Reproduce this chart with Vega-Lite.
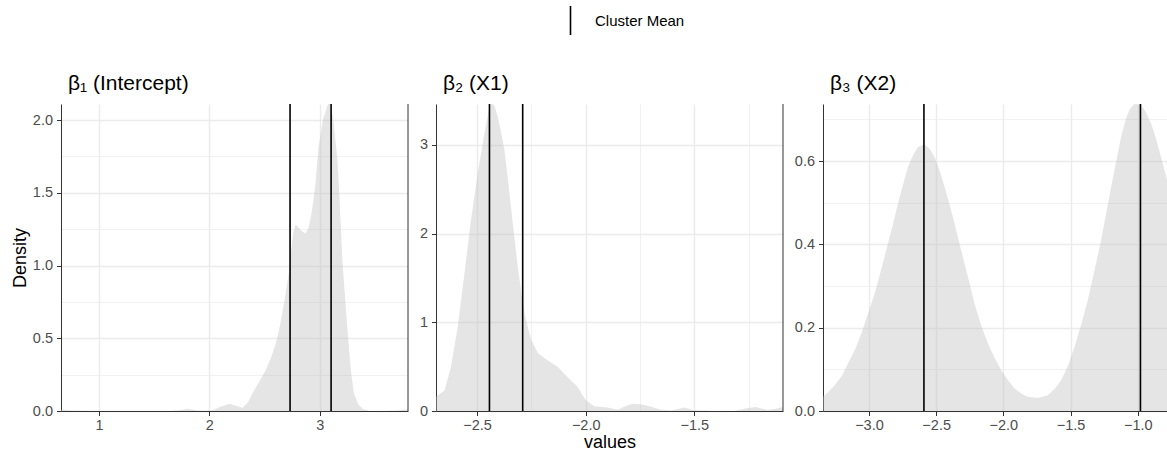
{
  "$schema": "https://vega.github.io/schema/vega-lite/v6.json",
  "background": "white",
  "padding": {"left": 11, "top": 5, "right": 0, "bottom": 0},
  "spacing": 10,
  "config": {
    "font": "Liberation Sans",
    "view": {"stroke": null},
    "axis": {
      "domainColor": "#333333",
      "domainWidth": 1,
      "tickColor": "#333333",
      "tickSize": 4.5,
      "tickWidth": 1,
      "labelColor": "#4D4D4D",
      "labelFontSize": 14.5,
      "labelPadding": 3,
      "labelOverlap": false,
      "labelFlush": false,
      "titleFontSize": 18,
      "titleFontWeight": "normal",
      "titleColor": "black",
      "gridColor": "#EBEBEB"
    },
    "axisY": {"labelPadding": 4},
    "title": {"fontSize": 21, "fontWeight": "normal", "color": "black", "anchor": "start", "frame": "group", "offset": 9, "dx": 7}
  },
  "datasets": {
    "density": [
      {"param": "b1", "value": 0.655, "density": 0.01},
      {"param": "b1", "value": 0.75, "density": 0.004},
      {"param": "b1", "value": 0.9, "density": 0.0},
      {"param": "b1", "value": 1.2, "density": 0.0},
      {"param": "b1", "value": 1.5, "density": 0.0},
      {"param": "b1", "value": 1.65, "density": 0.0},
      {"param": "b1", "value": 1.73, "density": 0.005},
      {"param": "b1", "value": 1.8, "density": 0.016},
      {"param": "b1", "value": 1.88, "density": 0.006},
      {"param": "b1", "value": 1.95, "density": 0.0},
      {"param": "b1", "value": 2.03, "density": 0.005},
      {"param": "b1", "value": 2.1, "density": 0.03},
      {"param": "b1", "value": 2.18, "density": 0.05},
      {"param": "b1", "value": 2.25, "density": 0.035},
      {"param": "b1", "value": 2.3, "density": 0.023},
      {"param": "b1", "value": 2.35, "density": 0.06},
      {"param": "b1", "value": 2.39, "density": 0.12},
      {"param": "b1", "value": 2.45, "density": 0.2},
      {"param": "b1", "value": 2.51, "density": 0.28},
      {"param": "b1", "value": 2.56, "density": 0.37},
      {"param": "b1", "value": 2.6, "density": 0.46},
      {"param": "b1", "value": 2.63, "density": 0.55},
      {"param": "b1", "value": 2.66, "density": 0.67},
      {"param": "b1", "value": 2.69, "density": 0.8},
      {"param": "b1", "value": 2.72, "density": 0.95},
      {"param": "b1", "value": 2.74, "density": 1.1},
      {"param": "b1", "value": 2.76, "density": 1.22},
      {"param": "b1", "value": 2.78, "density": 1.28},
      {"param": "b1", "value": 2.8, "density": 1.27},
      {"param": "b1", "value": 2.83, "density": 1.24},
      {"param": "b1", "value": 2.87, "density": 1.22},
      {"param": "b1", "value": 2.9, "density": 1.26},
      {"param": "b1", "value": 2.93, "density": 1.38},
      {"param": "b1", "value": 2.96, "density": 1.55},
      {"param": "b1", "value": 2.99, "density": 1.82},
      {"param": "b1", "value": 3.03, "density": 2.0},
      {"param": "b1", "value": 3.07, "density": 2.1},
      {"param": "b1", "value": 3.09, "density": 2.13},
      {"param": "b1", "value": 3.12, "density": 2.02},
      {"param": "b1", "value": 3.16, "density": 1.73},
      {"param": "b1", "value": 3.18, "density": 1.45},
      {"param": "b1", "value": 3.205, "density": 1.04},
      {"param": "b1", "value": 3.235, "density": 0.72},
      {"param": "b1", "value": 3.26, "density": 0.47},
      {"param": "b1", "value": 3.285, "density": 0.26},
      {"param": "b1", "value": 3.31, "density": 0.12},
      {"param": "b1", "value": 3.35, "density": 0.045},
      {"param": "b1", "value": 3.39, "density": 0.014},
      {"param": "b1", "value": 3.45, "density": 0.0},
      {"param": "b1", "value": 3.6, "density": 0.0},
      {"param": "b1", "value": 3.7, "density": 0.004},
      {"param": "b1", "value": 3.76, "density": 0.01},
      {"param": "b1", "value": 3.8, "density": 0.008},
      {"param": "b2", "value": -2.689, "density": 0.16},
      {"param": "b2", "value": -2.65, "density": 0.23},
      {"param": "b2", "value": -2.62, "density": 0.5},
      {"param": "b2", "value": -2.589, "density": 0.95},
      {"param": "b2", "value": -2.558, "density": 1.55},
      {"param": "b2", "value": -2.528, "density": 2.15},
      {"param": "b2", "value": -2.497, "density": 2.68},
      {"param": "b2", "value": -2.466, "density": 3.13},
      {"param": "b2", "value": -2.443, "density": 3.43},
      {"param": "b2", "value": -2.433, "density": 3.47},
      {"param": "b2", "value": -2.42, "density": 3.44},
      {"param": "b2", "value": -2.405, "density": 3.32},
      {"param": "b2", "value": -2.39, "density": 3.15},
      {"param": "b2", "value": -2.374, "density": 2.94},
      {"param": "b2", "value": -2.36, "density": 2.65},
      {"param": "b2", "value": -2.344, "density": 2.3},
      {"param": "b2", "value": -2.328, "density": 1.95},
      {"param": "b2", "value": -2.313, "density": 1.63},
      {"param": "b2", "value": -2.297, "density": 1.35},
      {"param": "b2", "value": -2.282, "density": 1.1},
      {"param": "b2", "value": -2.265, "density": 0.93},
      {"param": "b2", "value": -2.25, "density": 0.8},
      {"param": "b2", "value": -2.22, "density": 0.65},
      {"param": "b2", "value": -2.175, "density": 0.57},
      {"param": "b2", "value": -2.129, "density": 0.5},
      {"param": "b2", "value": -2.083, "density": 0.38},
      {"param": "b2", "value": -2.037, "density": 0.27},
      {"param": "b2", "value": -2.0, "density": 0.12},
      {"param": "b2", "value": -1.96, "density": 0.053},
      {"param": "b2", "value": -1.899, "density": 0.04},
      {"param": "b2", "value": -1.853, "density": 0.015},
      {"param": "b2", "value": -1.82, "density": 0.05},
      {"param": "b2", "value": -1.784, "density": 0.083},
      {"param": "b2", "value": -1.75, "density": 0.075},
      {"param": "b2", "value": -1.715, "density": 0.06},
      {"param": "b2", "value": -1.653, "density": 0.015},
      {"param": "b2", "value": -1.607, "density": 0.005},
      {"param": "b2", "value": -1.546, "density": 0.04},
      {"param": "b2", "value": -1.5, "density": 0.008},
      {"param": "b2", "value": -1.4, "density": 0.0},
      {"param": "b2", "value": -1.316, "density": 0.0},
      {"param": "b2", "value": -1.26, "density": 0.03},
      {"param": "b2", "value": -1.216, "density": 0.045},
      {"param": "b2", "value": -1.163, "density": 0.01},
      {"param": "b2", "value": -1.125, "density": 0.025},
      {"param": "b2", "value": -1.092, "density": 0.045},
      {"param": "b3", "value": -3.342, "density": 0.034},
      {"param": "b3", "value": -3.3, "density": 0.046},
      {"param": "b3", "value": -3.255, "density": 0.062},
      {"param": "b3", "value": -3.2, "density": 0.085},
      {"param": "b3", "value": -3.156, "density": 0.114},
      {"param": "b3", "value": -3.1, "density": 0.15},
      {"param": "b3", "value": -3.057, "density": 0.186},
      {"param": "b3", "value": -3.0, "density": 0.24},
      {"param": "b3", "value": -2.958, "density": 0.282},
      {"param": "b3", "value": -2.9, "density": 0.35},
      {"param": "b3", "value": -2.859, "density": 0.402},
      {"param": "b3", "value": -2.82, "density": 0.45},
      {"param": "b3", "value": -2.784, "density": 0.498},
      {"param": "b3", "value": -2.745, "density": 0.545},
      {"param": "b3", "value": -2.71, "density": 0.586},
      {"param": "b3", "value": -2.67, "density": 0.615},
      {"param": "b3", "value": -2.636, "density": 0.634},
      {"param": "b3", "value": -2.586, "density": 0.64},
      {"param": "b3", "value": -2.55, "density": 0.63},
      {"param": "b3", "value": -2.512, "density": 0.61},
      {"param": "b3", "value": -2.475, "density": 0.578},
      {"param": "b3", "value": -2.437, "density": 0.538},
      {"param": "b3", "value": -2.4, "density": 0.495},
      {"param": "b3", "value": -2.363, "density": 0.45},
      {"param": "b3", "value": -2.325, "density": 0.4},
      {"param": "b3", "value": -2.289, "density": 0.354},
      {"param": "b3", "value": -2.25, "density": 0.305},
      {"param": "b3", "value": -2.215, "density": 0.258},
      {"param": "b3", "value": -2.165, "density": 0.205},
      {"param": "b3", "value": -2.115, "density": 0.162},
      {"param": "b3", "value": -2.065, "density": 0.127},
      {"param": "b3", "value": -2.016, "density": 0.098},
      {"param": "b3", "value": -1.965, "density": 0.074},
      {"param": "b3", "value": -1.917, "density": 0.054},
      {"param": "b3", "value": -1.867, "density": 0.042},
      {"param": "b3", "value": -1.817, "density": 0.034},
      {"param": "b3", "value": -1.744, "density": 0.031},
      {"param": "b3", "value": -1.669, "density": 0.038},
      {"param": "b3", "value": -1.62, "density": 0.052},
      {"param": "b3", "value": -1.57, "density": 0.074},
      {"param": "b3", "value": -1.52, "density": 0.108},
      {"param": "b3", "value": -1.47, "density": 0.154},
      {"param": "b3", "value": -1.42, "density": 0.208},
      {"param": "b3", "value": -1.372, "density": 0.266},
      {"param": "b3", "value": -1.32, "density": 0.34},
      {"param": "b3", "value": -1.273, "density": 0.41},
      {"param": "b3", "value": -1.235, "density": 0.475},
      {"param": "b3", "value": -1.198, "density": 0.538},
      {"param": "b3", "value": -1.16, "density": 0.6},
      {"param": "b3", "value": -1.124, "density": 0.658},
      {"param": "b3", "value": -1.09, "density": 0.7},
      {"param": "b3", "value": -1.062, "density": 0.723},
      {"param": "b3", "value": -1.025, "density": 0.737},
      {"param": "b3", "value": -0.975, "density": 0.735},
      {"param": "b3", "value": -0.94, "density": 0.718},
      {"param": "b3", "value": -0.901, "density": 0.69},
      {"param": "b3", "value": -0.865, "density": 0.655},
      {"param": "b3", "value": -0.827, "density": 0.61},
      {"param": "b3", "value": -0.775, "density": 0.546}
    ],
    "means": [
      {"param": "b1", "mean": 2.731},
      {"param": "b1", "mean": 3.103},
      {"param": "b2", "mean": -2.443},
      {"param": "b2", "mean": -2.29},
      {"param": "b3", "mean": -2.591},
      {"param": "b3", "mean": -0.98}
    ],
    "edges": [
      {"param": "b1", "edge": 3.8},
      {"param": "b2", "edge": -1.092},
      {"param": "b3", "edge": -0.775}
    ]
  },
  "hconcat": [
    {
      "width": 347,
      "height": 307,
      "title": {"text": "β₁ (Intercept)"},
      "layer": [
        {
          "data": {"name": "density"},
          "transform": [{"filter": "datum.param == 'b1'"}],
          "mark": {"type": "area", "fill": "#BEBEBE", "fillOpacity": 0.4, "clip": true},
          "encoding": {
            "x": {"field": "value", "type": "quantitative", "title": null,
              "scale": {"domain": [0.655, 3.8], "nice": false, "zero": false},
              "axis": {"values": [1, 1.5, 2, 2.5, 3, 3.5], "format": "d",
                "labelExpr": "datum.value % 1 != 0 ? '' : datum.label",
                "tickOpacity": {"condition": {"test": "datum.value % 1 != 0", "value": 0}, "value": 1},
                "gridWidth": {"condition": {"test": "datum.value % 1 != 0", "value": 0.7}, "value": 1.4}}},
            "y": {"field": "density", "type": "quantitative", "title": "Density",
              "scale": {"domain": [0, 2.11], "nice": false},
              "axis": {"values": [0, 0.25, 0.5, 0.75, 1, 1.25, 1.5, 1.75, 2], "format": ".1f", "titlePadding": 3,
                "labelExpr": "(datum.value * 2) % 1 != 0 ? '' : datum.label",
                "tickOpacity": {"condition": {"test": "(datum.value * 2) % 1 != 0", "value": 0}, "value": 1},
                "gridWidth": {"condition": {"test": "(datum.value * 2) % 1 != 0", "value": 0.7}, "value": 1.4}}}
          }
        },
        {
          "data": {"name": "means"},
          "transform": [{"filter": "datum.param == 'b1'"}],
          "mark": {"type": "rule", "strokeWidth": 1.6},
          "encoding": {
            "x": {"field": "mean", "type": "quantitative"},
            "stroke": {"datum": "Cluster Mean", "scale": {"range": ["black"]},
              "legend": {"title": null, "orient": "none", "legendX": 494, "legendY": -99,
                "symbolType": "M0,-1L0,1", "symbolSize": 841, "symbolStrokeWidth": 1.6,
                "labelFontSize": 15, "labelColor": "black", "labelOffset": 9}}
          }
        },
        {
          "data": {"name": "edges"},
          "transform": [{"filter": "datum.param == 'b1'"}],
          "mark": {"type": "rule", "color": "#333333", "strokeWidth": 1},
          "encoding": {"x": {"field": "edge", "type": "quantitative"}}
        }
      ]
    },
    {
      "width": 347,
      "height": 307,
      "title": {"text": "β₂ (X1)"},
      "layer": [
        {
          "data": {"name": "density"},
          "transform": [{"filter": "datum.param == 'b2'"}],
          "mark": {"type": "area", "fill": "#BEBEBE", "fillOpacity": 0.4, "clip": true},
          "encoding": {
            "x": {"field": "value", "type": "quantitative", "title": "values",
              "scale": {"domain": [-2.689, -1.092], "nice": false, "zero": false},
              "axis": {"values": [-2.5, -2.25, -2, -1.75, -1.5, -1.25], "format": ".1f", "titlePadding": 1,
                "labelExpr": "(datum.value * 2) % 1 != 0 ? '' : datum.label",
                "tickOpacity": {"condition": {"test": "(datum.value * 2) % 1 != 0", "value": 0}, "value": 1},
                "gridWidth": {"condition": {"test": "(datum.value * 2) % 1 != 0", "value": 0.7}, "value": 1.4}}},
            "y": {"field": "density", "type": "quantitative", "title": null,
              "scale": {"domain": [0, 3.46], "nice": false},
              "axis": {"values": [0, 0.5, 1, 1.5, 2, 2.5, 3], "format": "d",
                "labelExpr": "datum.value % 1 != 0 ? '' : datum.label",
                "tickOpacity": {"condition": {"test": "datum.value % 1 != 0", "value": 0}, "value": 1},
                "gridWidth": {"condition": {"test": "datum.value % 1 != 0", "value": 0.7}, "value": 1.4}}}
          }
        },
        {
          "data": {"name": "means"},
          "transform": [{"filter": "datum.param == 'b2'"}],
          "mark": {"type": "rule", "strokeWidth": 1.6},
          "encoding": {
            "x": {"field": "mean", "type": "quantitative"},
            "stroke": {"datum": "Cluster Mean"}
          }
        },
        {
          "data": {"name": "edges"},
          "transform": [{"filter": "datum.param == 'b2'"}],
          "mark": {"type": "rule", "color": "#333333", "strokeWidth": 1},
          "encoding": {"x": {"field": "edge", "type": "quantitative"}}
        }
      ]
    },
    {
      "width": 345,
      "height": 307,
      "title": {"text": "β₃ (X2)"},
      "resolve": {"axis": {"x": "independent"}},
      "layer": [
        {
          "data": {"name": "density"},
          "transform": [{"filter": "datum.param == 'b3'"}],
          "mark": {"type": "area", "fill": "#BEBEBE", "fillOpacity": 0.4, "clip": true},
          "encoding": {
            "x": {"field": "value", "type": "quantitative", "title": null,
              "scale": {"domain": [-3.342, -0.775], "nice": false, "zero": false},
              "axis": {"orient": "bottom", "values": [-3, -2.5, -2, -1.5, -1], "format": ".1f", "gridWidth": 1.4}},
            "y": {"field": "density", "type": "quantitative", "title": null,
              "scale": {"domain": [0, 0.737], "nice": false},
              "axis": {"values": [0, 0.1, 0.2, 0.3, 0.4, 0.5, 0.6, 0.7], "format": ".1f",
                "labelExpr": "round(datum.value * 10) % 2 != 0 ? '' : datum.label",
                "tickOpacity": {"condition": {"test": "round(datum.value * 10) % 2 != 0", "value": 0}, "value": 1},
                "gridWidth": {"condition": {"test": "round(datum.value * 10) % 2 != 0", "value": 0.7}, "value": 1.4}}}
          }
        },
        {
          "data": {"name": "means"},
          "transform": [{"filter": "datum.param == 'b3'"}],
          "mark": {"type": "rule", "strokeWidth": 1.6},
          "encoding": {
            "x": {"field": "mean", "type": "quantitative",
              "axis": {"orient": "bottom", "values": [-3.25, -2.75, -2.25, -1.75, -1.25], "labels": false, "ticks": false, "domain": false, "title": null, "gridWidth": 0.7}},
            "stroke": {"datum": "Cluster Mean"}
          }
        },
        {
          "data": {"name": "edges"},
          "transform": [{"filter": "datum.param == 'b3'"}],
          "mark": {"type": "rule", "color": "#333333", "strokeWidth": 1},
          "encoding": {"x": {"field": "edge", "type": "quantitative", "axis": null}}
        }
      ]
    }
  ]
}
